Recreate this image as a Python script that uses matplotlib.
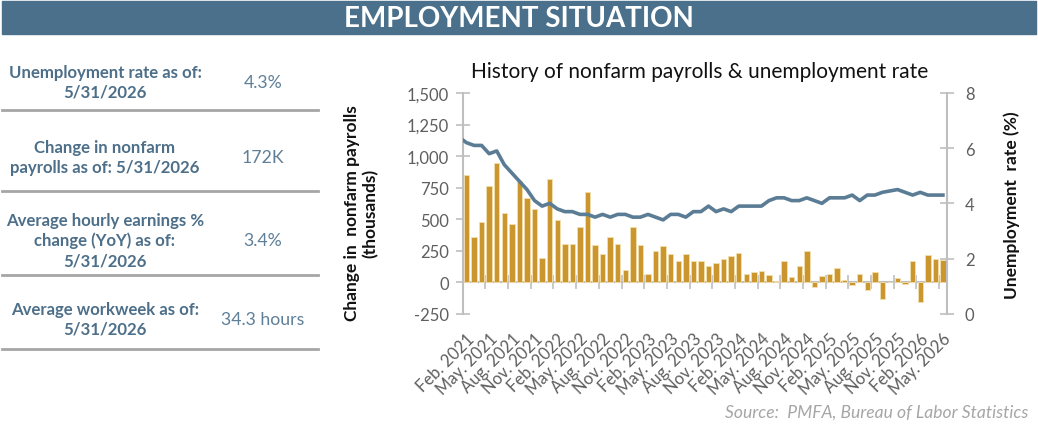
import matplotlib
matplotlib.use("Agg")
import matplotlib.pyplot as plt
import numpy as np
from matplotlib.patches import Rectangle
from matplotlib.lines import Line2D

plt.rcParams['font.family'] = ['Lato', 'DejaVu Sans']
plt.rcParams['axes.unicode_minus'] = False

# monthly data, Feb. 2021 .. May. 2026
payrolls = [850, 355, 480, 760, 945, 550, 460, 800, 665, 580,
            190, 815, 490, 300, 300, 435, 715, 295, 225, 355,
            300, 95, 440, 295, 68, 245, 285, 225, 165, 225,
            165, 165, 130, 150, 180, 205, 235, 68, 78, 90,
            58, 10, 165, 38, 130, 245, -40, 48, 68, 110,
            20, -20, 68, -65, 80, -135, 0, 35, -12, 165,
            -155, 215, 185, 172]
unemp_rate = [6.2, 6.1, 6.1, 5.8, 5.9, 5.4, 5.1, 4.8, 4.5, 4.1,
              3.9, 4.0, 3.8, 3.7, 3.7, 3.6, 3.6, 3.5, 3.6, 3.5,
              3.6, 3.6, 3.5, 3.5, 3.6, 3.5, 3.4, 3.6, 3.6, 3.5,
              3.7, 3.7, 3.9, 3.7, 3.8, 3.7, 3.9, 3.9, 3.9, 3.9,
              4.1, 4.2, 4.2, 4.1, 4.1, 4.2, 4.1, 4.0, 4.2, 4.2,
              4.2, 4.3, 4.1, 4.3, 4.3, 4.4, 4.45, 4.5, 4.4, 4.3,
              4.4, 4.3, 4.3, 4.3]
rate_jan_2021 = 6.4  # point before the window, only its clipped segment shows

tick_labels = ['Feb. 2021', 'May. 2021', 'Aug. 2021', 'Nov. 2021',
               'Feb. 2022', 'May. 2022', 'Aug. 2022', 'Nov. 2022',
               'Feb. 2023', 'May. 2023', 'Aug. 2023', 'Nov. 2023',
               'Feb. 2024', 'May. 2024', 'Aug. 2024', 'Nov. 2024',
               'Feb. 2025', 'May. 2025', 'Aug. 2025', 'Nov. 2025',
               'Feb. 2026', 'May. 2026']

stat_labels = ['Unemployment rate as of:\n5/31/2026',
               'Change in nonfarm\npayrolls as of: 5/31/2026',
               'Average hourly earnings %\nchange (YoY) as of:\n5/31/2026',
               'Average workweek as of:\n5/31/2026']
stat_values = ['4.3%', '172K', '3.4%', '34.3 hours']

W, H = 1038, 427
BLUE = '#4a708b'
TXT_BLUE = '#4d6f89'
GOLD = '#cc962f'
LINE = '#5b7c95'
GREY = '#bfbfbf'
TICK_TXT = '#5f5f5f'


def px(x, y):
    return x / W, 1 - y / H


fig = plt.figure(figsize=(W / 100, H / 100), dpi=100)

# banner
fig.patches.append(Rectangle(px(2, 35), 1 - 4 / W, 33 / H, transform=fig.transFigure,
                             color=BLUE, zorder=0))
fig.text(*px(519, 19), 'EMPLOYMENT SITUATION', color='white', fontsize=20,
         fontweight='bold', ha='center', va='center')

# left stats table
label_y = [83, 158, 241, 320]
sep_y = [111, 192, 276, 350]
for lab, val, ly in zip(stat_labels, stat_values, label_y):
    fig.text(*px(105, ly), lab, color=TXT_BLUE, fontsize=12.1, fontweight='bold',
             ha='center', va='center', linespacing=1.3)
    fig.text(*px(263, ly), val, color='#5f7f98', fontsize=12.7,
             ha='center', va='center')
for sy in sep_y:
    fig.add_artist(Line2D([2 / W, 318 / W], [1 - sy / H] * 2, color='#a6a6a6',
                          lw=2, transform=fig.transFigure))

# chart
ax = fig.add_axes([462.7 / W, 1 - 314.7 / H, 484 / W, 220.7 / H])
x = np.arange(len(payrolls))
ax.bar(x, payrolls, width=0.72, color=GOLD, edgecolor='#f3dfae', linewidth=0.6, zorder=2)
ax.set_xlim(-0.5, len(payrolls) - 0.5)
ax.set_ylim(-250, 1500)
ax.set_yticks(np.arange(-250, 1501, 250))
ax.yaxis.set_major_formatter(matplotlib.ticker.StrMethodFormatter('{x:,.0f}'))
ax.set_xticks(np.arange(0, len(payrolls), 3))
ax.set_xticklabels(tick_labels, rotation=45, ha='right', rotation_mode='anchor',
                   fontsize=12, color=TICK_TXT)
ax.tick_params(axis='x', length=0, pad=12)
ax.tick_params(axis='y', direction='inout', length=10, width=1.2, color=GREY,
               labelsize=12, labelcolor=TICK_TXT, pad=5)
for s in ['top', 'right', 'bottom']:
    ax.spines[s].set_visible(False)
ax.spines['left'].set_color(GREY)
ax.spines['left'].set_linewidth(1.5)

# category axis crossing at zero
zero_ax = ax.secondary_xaxis(250 / 1750)
zero_ax.set_xticks(np.arange(2.5, len(payrolls) - 1, 3))
zero_ax.set_xticklabels([])
zero_ax.tick_params(direction='inout', length=10, width=1.2, color=GREY)
zero_ax.spines['bottom'].set_color(GREY)
zero_ax.spines['bottom'].set_linewidth(1.5)

ax2 = ax.twinx()
ax2.plot(np.arange(-1, len(unemp_rate)), [rate_jan_2021] + unemp_rate,
         color=LINE, lw=2.6, solid_joinstyle='round', zorder=3)
ax2.set_xlim(-0.5, len(payrolls) - 0.5)
ax2.set_ylim(0, 8)
ax2.set_yticks([0, 2, 4, 6, 8])
ax2.tick_params(axis='y', direction='inout', length=10, width=1.2, color=GREY,
                labelsize=12, labelcolor=TICK_TXT, pad=8)
for s in ['top', 'left', 'bottom']:
    ax2.spines[s].set_visible(False)
ax2.spines['right'].set_color(GREY)
ax2.spines['right'].set_linewidth(1.5)

fig.text(*px(700, 72), 'History of nonfarm payrolls & unemployment rate',
         fontsize=15, color='#111111', ha='center', va='center')
fig.text(*px(361, 213), 'Change in  nonfarm payrolls\n(thousands)', rotation=90,
         fontsize=12.5, fontweight='bold', color='#111111', ha='center', va='center',
         linespacing=1.15)
fig.text(*px(1012, 205), 'Unemployment  rate (%)', rotation=90,
         fontsize=12.5, fontweight='bold', color='#111111', ha='center', va='center')
fig.text(*px(1028, 413), 'Source:  PMFA, Bureau of Labor Statistics', fontsize=12.6,
         style='italic', color='#a6a6a6', ha='right', va='center')

fig.savefig('out.png', dpi=100)
